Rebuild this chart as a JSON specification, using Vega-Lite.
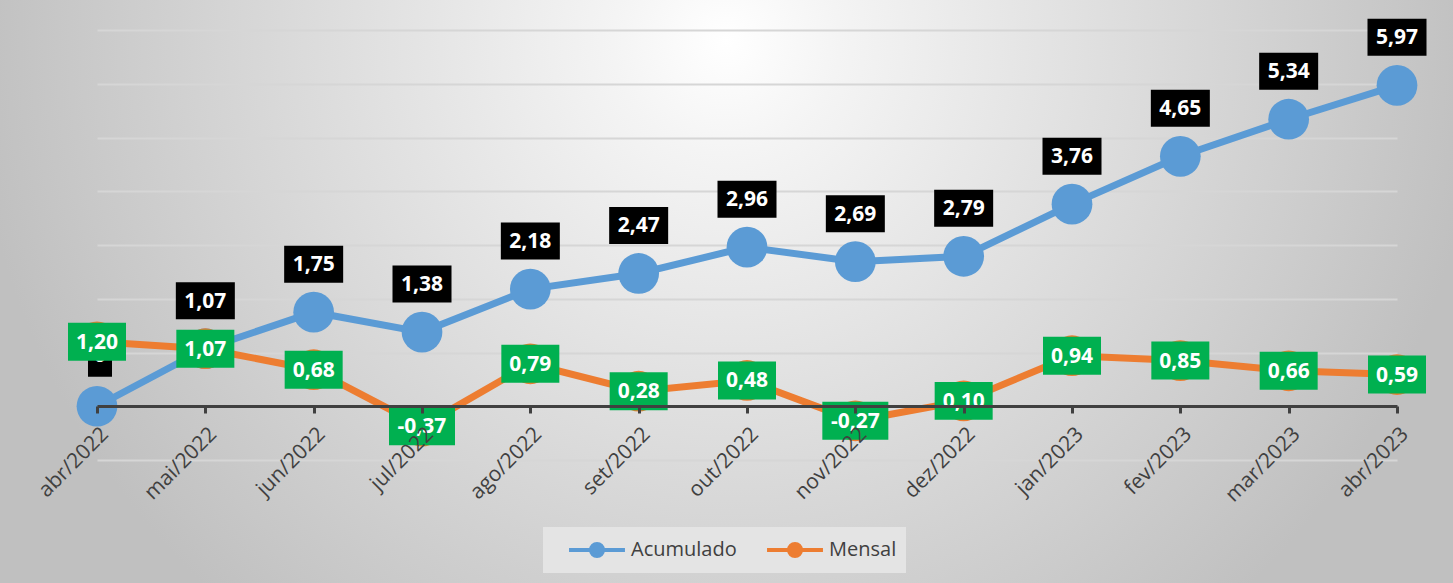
{
  "$schema": "https://vega.github.io/schema/vega-lite/v6.json",
  "width": 1453,
  "height": 583,
  "autosize": "none",
  "padding": 0,
  "background": "#c8c8c8",
  "view": {
    "stroke": null,
    "fill": {
      "gradient": "radial",
      "x1": 0.5, "y1": 0.327, "r1": 0,
      "x2": 0.5, "y2": 0.327, "r2": 0.52,
      "stops": [
        {"offset": 0, "color": "#ffffff"},
        {"offset": 0.15, "color": "#f4f4f4"},
        {"offset": 1, "color": "#c0c0c0"}
      ]
    }
  },
  "config": {
    "locale": {
      "number": {"decimal": ",", "thousands": ".", "grouping": [3], "currency": ["R$", ""], "minus": "-"}
    },
    "font": "Open Sans"
  },
  "data": {
    "values": [
      {"mes": "abr/2022", "serie": "Acumulado", "valor": 0.00},
      {"mes": "mai/2022", "serie": "Acumulado", "valor": 1.07},
      {"mes": "jun/2022", "serie": "Acumulado", "valor": 1.75},
      {"mes": "jul/2022", "serie": "Acumulado", "valor": 1.38},
      {"mes": "ago/2022", "serie": "Acumulado", "valor": 2.18},
      {"mes": "set/2022", "serie": "Acumulado", "valor": 2.47},
      {"mes": "out/2022", "serie": "Acumulado", "valor": 2.96},
      {"mes": "nov/2022", "serie": "Acumulado", "valor": 2.69},
      {"mes": "dez/2022", "serie": "Acumulado", "valor": 2.79},
      {"mes": "jan/2023", "serie": "Acumulado", "valor": 3.76},
      {"mes": "fev/2023", "serie": "Acumulado", "valor": 4.65},
      {"mes": "mar/2023", "serie": "Acumulado", "valor": 5.34},
      {"mes": "abr/2023", "serie": "Acumulado", "valor": 5.97},
      {"mes": "abr/2022", "serie": "Mensal", "valor": 1.20},
      {"mes": "mai/2022", "serie": "Mensal", "valor": 1.07},
      {"mes": "jun/2022", "serie": "Mensal", "valor": 0.68},
      {"mes": "jul/2022", "serie": "Mensal", "valor": -0.37},
      {"mes": "ago/2022", "serie": "Mensal", "valor": 0.79},
      {"mes": "set/2022", "serie": "Mensal", "valor": 0.28},
      {"mes": "out/2022", "serie": "Mensal", "valor": 0.48},
      {"mes": "nov/2022", "serie": "Mensal", "valor": -0.27},
      {"mes": "dez/2022", "serie": "Mensal", "valor": 0.10},
      {"mes": "jan/2023", "serie": "Mensal", "valor": 0.94},
      {"mes": "fev/2023", "serie": "Mensal", "valor": 0.85},
      {"mes": "mar/2023", "serie": "Mensal", "valor": 0.66},
      {"mes": "abr/2023", "serie": "Mensal", "valor": 0.59}
    ]
  },
  "encoding": {
    "x": {
      "field": "mes", "type": "ordinal", "sort": null,
      "scale": {"type": "point", "range": [97, 1397], "padding": 0},
      "axis": {
        "title": null, "orient": "bottom", "offset": -177, "zindex": 1,
        "labelAngle": -45, "labelFont": "Open Sans", "labelFontSize": 21, "labelColor": "#404040",
        "labelPadding": 10, "domainColor": "#404040", "domainWidth": 3,
        "tickColor": "#404040", "tickWidth": 3, "tickSize": 7, "grid": false
      }
    },
    "y": {
      "field": "valor", "type": "quantitative",
      "scale": {"domain": [-1, 7], "range": [460, 30], "nice": false, "zero": false},
      "axis": {
        "title": null, "labels": false, "ticks": false, "domain": false,
        "grid": true, "values": [-1, 1, 2, 3, 4, 5, 6, 7],
        "gridColor": "#d6d6d6", "gridWidth": 2
      }
    }
  },
  "layer": [
    {
      "mark": {"type": "line", "strokeWidth": 7},
      "encoding": {
        "color": {
          "field": "serie", "type": "nominal",
          "scale": {"domain": ["Acumulado", "Mensal"], "range": ["#5B9BD5", "#ED7D31"]},
          "legend": {
            "title": null, "orient": "none", "legendX": 543, "legendY": 527,
            "direction": "horizontal", "fillColor": "#e4e4e4", "padding": 9,
            "labelFont": "Open Sans", "labelFontSize": 20, "labelColor": "#404040",
            "symbolType": "M-2.33,0L2.33,0M-0.5,0A0.5,0.5,0,1,1,0.5,0A0.5,0.5,0,1,1,-0.5,0Z",
            "symbolSize": 576, "symbolStrokeWidth": 4, "symbolOffset": 31,
            "columnPadding": 13, "labelOffset": 20
          }
        },
        "order": {"field": "serie"}
      }
    },
    {
      "mark": {"type": "point", "filled": true, "opacity": 1, "size": 1660, "shape": "circle"},
      "encoding": {
        "color": {"field": "serie", "type": "nominal"}
      }
    },
    {
      "transform": [{"filter": "datum.serie === 'Acumulado'"}],
      "layer": [
        {
          "transform": [{"filter": "datum.valor !== 0"}],
          "mark": {"type": "point", "filled": true, "opacity": 1, "color": "#000000", "size": 3481,
                   "shape": "M-1,-0.627L1,-0.627L1,0.627L-1,0.627Z", "yOffset": -48}
        },
        {
          "transform": [{"filter": "datum.valor !== 0"}],
          "mark": {"type": "text", "color": "#ffffff", "font": "Open Sans", "fontWeight": "bold",
                   "fontSize": 21, "baseline": "middle", "align": "center", "yOffset": -47},
          "encoding": {"text": {"field": "valor", "type": "quantitative", "format": ".2f"}}
        },
        {
          "transform": [{"filter": "datum.valor === 0"}],
          "mark": {"type": "point", "filled": true, "opacity": 1, "color": "#000000", "size": 1369,
                   "shape": "M-0.649,-1L0.649,-1L0.649,1L-0.649,1Z", "yOffset": -48, "xOffset": 3}
        },
        {
          "transform": [{"filter": "datum.valor === 0"}],
          "mark": {"type": "text", "color": "#ffffff", "font": "Open Sans", "fontWeight": "bold",
                   "fontSize": 21, "baseline": "middle", "align": "center", "yOffset": -50, "xOffset": 3},
          "encoding": {"text": {"field": "valor", "type": "quantitative", "format": ".0f"}}
        }
      ]
    },
    {
      "transform": [{"filter": "datum.serie === 'Mensal'"}],
      "layer": [
        {
          "transform": [{"filter": "datum.valor >= 0"}],
          "mark": {"type": "point", "filled": true, "opacity": 1, "color": "#00B050", "size": 3364,
                   "shape": "M-1,-0.655L1,-0.655L1,0.655L-1,0.655Z"}
        },
        {
          "transform": [{"filter": "datum.valor < 0"}],
          "mark": {"type": "point", "filled": true, "opacity": 1, "color": "#00B050", "size": 4356,
                   "shape": "M-1,-0.576L1,-0.576L1,0.576L-1,0.576Z"}
        },
        {
          "mark": {"type": "text", "color": "#ffffff", "font": "Open Sans", "fontWeight": "bold",
                   "fontSize": 21, "baseline": "middle", "align": "center", "yOffset": 1},
          "encoding": {"text": {"field": "valor", "type": "quantitative", "format": ".2f"}}
        }
      ]
    }
  ]
}
